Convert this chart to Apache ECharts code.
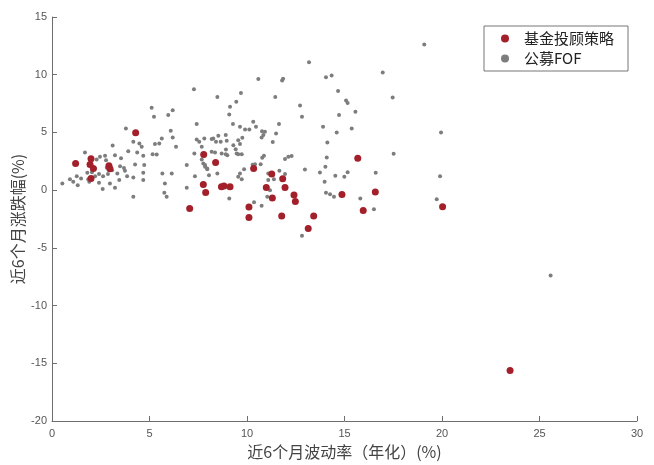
<!DOCTYPE html>
<html>
<head>
<meta charset="utf-8">
<script src="https://cdn.jsdelivr.net/npm/echarts@6/dist/echarts.min.js"></script>
<style>
  html, body { margin: 0; padding: 0; background: #fff; }
  #chart { width: 654px; height: 465px; }
</style>
</head>
<body>
<div id="chart"></div>
<script>
// series names
const seriesNames = ['基金投顾策略', '公募FOF'];

// [volatility (annualized, %), 6m return (%)]
const advisorPoints = [
  [1.21, 2.30], [2.00, 2.71], [1.95, 2.23], [2.12, 1.88], [2.00, 1.00],
  [2.92, 2.11], [2.97, 1.86], [4.29, 4.97], [7.78, 3.09], [8.39, 2.40],
  [7.76, 0.49], [7.88, -0.20], [7.06, -1.59], [8.69, 0.30], [8.82, 0.35],
  [9.13, 0.29], [10.34, 1.88], [10.99, 0.23], [10.10, -1.45], [10.10, -2.37],
  [11.27, 1.39], [11.83, 0.98], [11.95, 0.23], [11.30, -0.67], [12.41, -0.41],
  [12.48, -0.98], [11.78, -2.25], [13.42, -2.23], [13.14, -3.32], [15.68, 2.77],
  [14.87, -0.37], [16.58, -0.17], [15.96, -1.76], [20.03, -1.43], [23.49, -15.63]
];

const fofPoints = [
  [0.53, 0.58], [0.92, 0.95], [1.09, 0.72], [1.32, 0.43], [1.27, 1.21],
  [1.49, 1.01], [1.69, 3.27], [1.81, 1.50], [1.86, 0.95], [1.91, 0.72],
  [2.21, 1.88], [2.29, 2.66], [2.46, 2.89], [2.41, 0.63], [2.60, 0.09],
  [2.72, 2.97], [2.81, 1.93], [2.97, 0.58], [3.11, 3.87], [3.23, 3.03],
  [3.23, 0.20], [3.35, 1.45], [3.49, 2.08], [3.45, 0.87], [3.74, 1.67],
  [3.79, 5.35], [3.91, 3.38], [4.17, 4.19], [4.17, -0.58], [4.26, 2.23],
  [4.17, 1.10], [4.37, 3.27], [4.48, 4.05], [4.60, 3.75], [4.68, 2.97],
  [4.73, 2.17], [4.68, 1.50], [4.68, 0.87], [5.11, 7.13], [5.23, 6.35],
  [5.28, 3.99], [5.16, 3.12], [5.37, 3.09], [5.50, 4.05], [5.63, 4.48],
  [5.66, 1.45], [5.79, 0.58], [5.88, -0.58], [5.76, -0.23], [5.96, 6.50],
  [6.19, 6.93], [6.09, 5.14], [6.19, 4.57], [6.36, 3.75], [6.14, 1.45],
  [6.91, 2.17], [6.91, 0.20], [7.28, 8.73], [7.42, 5.72], [7.30, 3.18],
  [7.42, 4.39], [7.55, 4.19], [7.68, 3.75], [7.81, 4.48], [7.68, 2.66],
  [7.76, 2.31], [7.85, 2.02], [7.96, 1.88], [8.05, 1.30], [8.27, 4.48],
  [8.41, 4.19], [8.48, 8.08], [8.53, 4.71], [8.48, 1.45], [2.05, 1.56],
  [2.21, 1.21], [2.62, 1.21], [2.87, 1.39], [3.08, 1.73], [2.77, 2.60],
  [3.54, 2.77], [3.69, 1.91], [3.85, 1.21], [2.41, 1.39], [7.33, 1.21],
  [13.18, 11.07], [10.58, 9.62], [11.80, 9.50], [11.85, 9.65], [14.05, 9.77],
  [14.34, 9.94], [16.96, 10.20], [19.09, 12.61], [9.69, 8.41], [9.45, 7.65],
  [11.45, 8.08], [14.67, 8.58], [17.47, 8.03], [9.13, 7.22], [9.09, 6.56],
  [12.72, 7.34], [12.82, 6.35], [15.08, 7.76], [15.16, 7.54], [15.56, 6.80],
  [14.72, 6.50], [9.28, 5.72], [10.32, 5.92], [10.46, 5.49], [9.64, 5.49],
  [9.90, 5.26], [10.12, 5.26], [10.77, 5.11], [10.92, 5.05], [11.64, 5.72],
  [13.90, 5.49], [14.60, 5.00], [15.37, 5.33], [8.91, 4.77], [8.65, 4.19],
  [8.96, 4.27], [9.76, 4.53], [10.75, 4.57], [10.84, 4.77], [11.49, 4.91],
  [11.32, 4.16], [14.12, 4.12], [8.19, 3.32], [8.36, 3.27], [8.70, 3.18],
  [8.91, 3.12], [9.42, 3.55], [9.47, 3.18], [9.64, 3.99], [9.55, 3.12],
  [9.73, 3.12], [10.87, 2.97], [10.78, 2.80], [11.95, 2.69], [12.12, 2.89],
  [12.29, 2.95], [14.09, 2.83], [17.52, 3.15], [7.85, 2.17], [7.96, 1.82],
  [9.85, 1.82], [9.64, 1.45], [9.55, 1.15], [9.73, 0.95], [10.29, 2.19],
  [10.41, 2.25], [10.70, 2.25], [11.09, 1.45], [11.66, 1.67], [11.95, 1.39],
  [12.97, 1.79], [11.09, 0.87], [11.18, 0.00], [11.38, 0.95], [13.74, 1.53],
  [14.02, 2.02], [13.98, 0.72], [14.53, 1.24], [14.99, 1.15], [15.16, 1.56],
  [16.60, 1.50], [9.09, -0.72], [10.36, -1.04], [10.75, -1.36], [14.05, -0.23],
  [14.26, -0.35], [14.46, -0.58], [15.81, -0.72], [16.51, -1.65], [12.82, -3.96],
  [19.95, 5.00], [19.90, 1.21], [19.73, -0.78], [25.57, -7.39], [11.04, -0.58],
  [8.92, 3.53], [8.99, 3.03], [8.19, 4.42], [9.30, 3.90], [9.55, 4.33]
];

const xTicks = { min: 0, max: 30, step: 5 };
const yTicks = { min: -20, max: 15, step: 5 };

const chart = echarts.init(document.getElementById('chart'));

const axisCommon = {
  axisLine: { show: true, onZero: false, lineStyle: { color: '#6e6e6e', width: 1 } },
  axisTick: { show: true, inside: true, length: 5, lineStyle: { color: '#6e6e6e' } },
  axisLabel: { color: '#555', fontSize: 11, fontFamily: 'Liberation Sans, Arial, sans-serif' },
  splitLine: { show: false },
  nameTextStyle: { color: '#444', fontSize: 16, fontFamily: 'Noto Sans CJK SC' }
};

chart.setOption({
  animation: false,
  backgroundColor: '#fff',
  grid: { left: 52, right: 17, top: 17, bottom: 44, containLabel: false, outerBoundsMode: 'none' },
  legend: {
    orient: 'vertical',
    left: 484,
    top: 26,
    width: 146,
    padding: [5, 14, 5, 17],
    itemGap: 5,
    itemWidth: 8,
    itemHeight: 8,
    icon: 'circle',
    borderColor: '#777',
    borderWidth: 1,
    borderRadius: 0,
    textStyle: { color: '#222', fontSize: 15, fontFamily: 'Noto Sans CJK SC', padding: [0, 0, 0, 10] },
    data: seriesNames
  },
  xAxis: Object.assign({}, axisCommon, {
    type: 'value',
    min: xTicks.min,
    max: xTicks.max,
    interval: xTicks.step,
    name: '近6个月波动率（年化）(%)',
    nameLocation: 'middle',
    nameGap: 23,
    axisLabel: Object.assign({}, axisCommon.axisLabel, { margin: 7 })
  }),
  yAxis: Object.assign({}, axisCommon, {
    type: 'value',
    min: yTicks.min,
    max: yTicks.max,
    interval: yTicks.step,
    name: '近6个月涨跌幅(%)',
    nameLocation: 'middle',
    nameMoveOverlap: false,
    nameGap: 26,
    nameRotate: 90,
    axisLabel: Object.assign({}, axisCommon.axisLabel, { margin: 5 })
  }),
  series: [
    {
      name: seriesNames[1],
      type: 'scatter',
      data: fofPoints,
      symbolSize: 4,
      itemStyle: { color: '#7d7d7d', opacity: 1 },
      z: 2
    },
    {
      name: seriesNames[0],
      type: 'scatter',
      data: advisorPoints,
      symbolSize: 7,
      itemStyle: { color: '#a3202b', opacity: 1 },
      z: 3
    }
  ]
});
</script>
</body>
</html>
